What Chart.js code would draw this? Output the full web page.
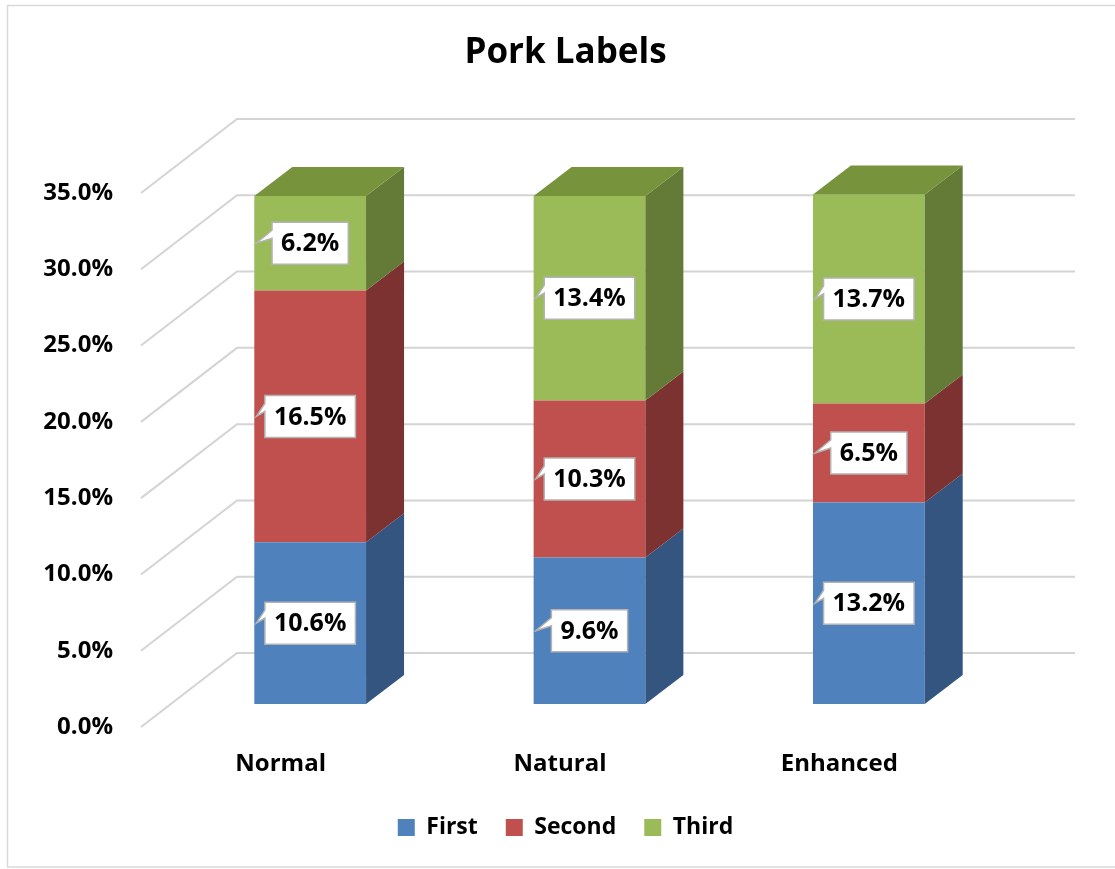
<!DOCTYPE html>
<html>
<head>
<meta charset="utf-8">
<title>Pork Labels</title>
<script src="https://cdn.jsdelivr.net/npm/chart.js@4.4.1/dist/chart.umd.min.js"></script>
<style>
    html, body { margin: 0; padding: 0; background: #fff; }
    #wrap { position: relative; width: 1115px; height: 869px; }
</style>
</head>
<body>
<div id="wrap"><canvas id="porkChart"></canvas></div>
<script>
// Chart data
const categories = ['Normal', 'Natural', 'Enhanced'];
const seriesNames = ['First', 'Second', 'Third'];
const firstValues = [10.6, 9.6, 13.2];
const secondValues = [16.5, 10.3, 6.5];
const thirdValues = [6.2, 13.4, 13.7];
const yMin = 0;
const yMax = 35;
const yStep = 5;

// Face colours: front, side, top
const FRONT = ['#4f81bd', '#c0504d', '#9bbb59'];
const SIDE = ['#34557f', '#7b3230', '#647a37'];
const TOP = ['#3f6797', '#9a403e', '#77933c'];

// Oblique offsets for the fake 3D look
const BAR_SHIFT = { x: 29.5, y: -23 };   // front face of the columns, from the floor edge
const BAR_DEPTH = { x: 38, y: -29 };     // column depth
const WALL = { x: 96, y: -74 };          // back wall, from the floor edge

const FONT = '"Open Sans", "DejaVu Sans", sans-serif';

const pseudo3d = {
    id: 'pseudo3d',
    beforeDraw(chart) {
        const ctx = chart.ctx;
        ctx.save();
        ctx.fillStyle = '#fff';
        ctx.fillRect(0, 0, chart.width, chart.height);
        ctx.strokeStyle = '#d9d9d9';
        ctx.lineWidth = 1.5;
        ctx.strokeRect(7.5, 5.5, chart.width + 10, 861.5);
        ctx.restore();
    },
    beforeDatasetsDraw(chart) {
        const ctx = chart.ctx;
        const { left, right } = chart.chartArea;
        const yScale = chart.scales.y;

        // side wall + back wall gridlines
        ctx.save();
        ctx.strokeStyle = '#d4d4d4';
        ctx.lineWidth = 2;
        yScale.ticks.forEach(t => {
            const y = yScale.getPixelForValue(t.value);
            ctx.beginPath();
            ctx.moveTo(left, y);
            ctx.lineTo(left + WALL.x, y + WALL.y);
            ctx.lineTo(right + WALL.x, y + WALL.y);
            ctx.stroke();
        });
        ctx.restore();

        // front faces get drawn by Chart.js, pushed back into the room
        ctx.save();
        ctx.translate(BAR_SHIFT.x, BAR_SHIFT.y);
    },
    afterDatasetsDraw(chart) {
        const ctx = chart.ctx;
        ctx.restore();

        const count = chart.data.datasets.length;
        chart.data.datasets.forEach((ds, di) => {
            const meta = chart.getDatasetMeta(di);
            meta.data.forEach(el => {
                const { x, y, base, width } = el.getProps(['x', 'y', 'base', 'width'], true);
                const l = x - width / 2 + BAR_SHIFT.x;
                const r = x + width / 2 + BAR_SHIFT.x;
                const t = y + BAR_SHIFT.y;
                const b = base + BAR_SHIFT.y;

                // right side
                ctx.fillStyle = SIDE[di];
                ctx.beginPath();
                ctx.moveTo(r, b);
                ctx.lineTo(r + BAR_DEPTH.x, b + BAR_DEPTH.y);
                ctx.lineTo(r + BAR_DEPTH.x, t + BAR_DEPTH.y);
                ctx.lineTo(r, t);
                ctx.closePath();
                ctx.fill();

                // lid on the top segment only
                if (di === count - 1) {
                    ctx.fillStyle = TOP[di];
                    ctx.beginPath();
                    ctx.moveTo(l, t);
                    ctx.lineTo(r, t);
                    ctx.lineTo(r + BAR_DEPTH.x, t + BAR_DEPTH.y);
                    ctx.lineTo(l + BAR_DEPTH.x, t + BAR_DEPTH.y);
                    ctx.closePath();
                    ctx.fill();
                }
            });
        });

        // callout labels
        ctx.save();
        ctx.font = 'bold 25px ' + FONT;
        ctx.textAlign = 'center';
        ctx.textBaseline = 'middle';
        chart.data.datasets.forEach((ds, di) => {
            const meta = chart.getDatasetMeta(di);
            meta.data.forEach((el, i) => {
                const { x, y, base, width } = el.getProps(['x', 'y', 'base', 'width'], true);
                const text = ds.data[i].toFixed(1) + '%';
                const cx = x + BAR_SHIFT.x;
                const cy = (y + base) / 2 + BAR_SHIFT.y;
                const barLeft = x - width / 2 + BAR_SHIFT.x;
                const w = ctx.measureText(text).width + 18;
                const h = 42;
                const bl = cx - w / 2, bt = cy - h / 2;

                ctx.beginPath();
                ctx.moveTo(bl, bt);
                ctx.lineTo(bl + w, bt);
                ctx.lineTo(bl + w, bt + h);
                ctx.lineTo(bl, bt + h);
                ctx.lineTo(bl, cy - 5);
                ctx.lineTo(barLeft + 2, cy);
                ctx.lineTo(bl, cy - 13);
                ctx.closePath();
                ctx.fillStyle = '#fff';
                ctx.fill();
                ctx.strokeStyle = '#b3b3b3';
                ctx.lineWidth = 1.5;
                ctx.stroke();

                ctx.fillStyle = '#000';
                ctx.fillText(text, cx, cy + 1);
            });
        });
        ctx.restore();
    }
};

const datasets = [firstValues, secondValues, thirdValues].map((vals, i) => ({
    label: seriesNames[i],
    data: vals,
    backgroundColor: FRONT[i],
    borderWidth: 0,
    barPercentage: 1,
    categoryPercentage: 0.4
}));

new Chart(document.getElementById('porkChart'), {
    type: 'bar',
    data: { labels: categories, datasets: datasets },
    plugins: [pseudo3d],
    options: {
        responsive: true,
        maintainAspectRatio: false,
        animation: false,
        layout: { padding: { left: 16, right: 0, top: 0, bottom: 20 } },
        plugins: {
            title: {
                display: true,
                text: 'Pork Labels',
                color: '#000',
                font: { family: FONT, size: 35, weight: 'bold' },
                padding: { top: 32, bottom: 119 }
            },
            legend: {
                position: 'bottom',
                labels: {
                    color: '#000',
                    font: { family: FONT, size: 23, weight: 'bold' },
                    boxWidth: 17,
                    boxHeight: 17,
                    padding: 28
                }
            },
            tooltip: { enabled: false }
        },
        scales: {
            x: {
                stacked: true,
                grid: { display: false, drawTicks: false },
                border: { display: false },
                ticks: {
                    color: '#000',
                    font: { family: FONT, size: 24, weight: 'bold' },
                    padding: 23
                },
                afterFit: s => { s.height = 61; }
            },
            y: {
                stacked: true,
                min: yMin,
                max: yMax,
                grid: { display: false, drawTicks: false },
                border: { display: false },
                ticks: {
                    stepSize: yStep,
                    color: '#000',
                    font: { family: FONT, size: 24, weight: 'bold' },
                    padding: 28,
                    callback: v => v.toFixed(1) + '%'
                },
                afterFit: s => { s.width = 125; }
            },
            // empty right-hand gutter
            gutter: {
                position: 'right',
                display: true,
                grid: { display: false, drawTicks: false },
                border: { display: false },
                ticks: { display: false },
                afterFit: s => { s.width = 136; }
            }
        }
    }
});
</script>
</body>
</html>
